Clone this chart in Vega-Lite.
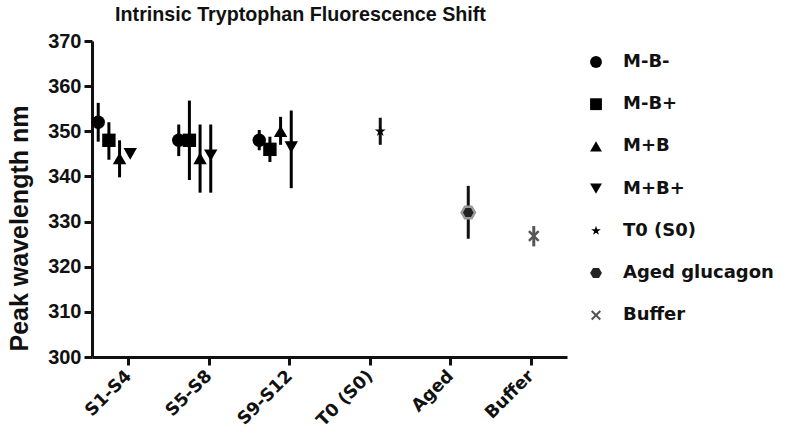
{
  "$schema": "https://vega.github.io/schema/vega-lite/v6.json",
  "width": 475,
  "height": 316,
  "autosize": {"type": "none"},
  "padding": {"left": 92, "top": 41, "right": 225, "bottom": 87},
  "background": "white",
  "title": {
    "text": "Intrinsic Tryptophan Fluorescence Shift",
    "fontSize": 19.7,
    "font": "Liberation Sans",
    "fontWeight": "bold",
    "color": "#111",
    "anchor": "middle",
    "dx": -29,
    "offset": 6
  },
  "config": {
    "view": {"stroke": null},
    "font": "Liberation Sans",
    "legend": {
      "labelFont": "DejaVu Sans",
      "labelFontSize": 18,
      "labelFontWeight": "bold",
      "labelColor": "#111",
      "labelOffset": 18,
      "symbolSize": 140,
      "rowPadding": 24.2,
      "padding": 0
    }
  },
  "data": {
    "values": [
      {"group": "S1-S4", "series": "M-B-", "mean": 352, "lo": 347.7, "hi": 356.3},
      {"group": "S1-S4", "series": "M-B+", "mean": 348, "lo": 343.7, "hi": 352},
      {"group": "S1-S4", "series": "M+B", "mean": 344, "lo": 339.8, "hi": 348},
      {"group": "S1-S4", "series": "M+B+", "mean": 345, "lo": 344.3, "hi": 345.7},
      {"group": "S5-S8", "series": "M-B-", "mean": 348, "lo": 344.5, "hi": 351.5},
      {"group": "S5-S8", "series": "M-B+", "mean": 348, "lo": 339.2, "hi": 356.8},
      {"group": "S5-S8", "series": "M+B", "mean": 344, "lo": 336.4, "hi": 351.5},
      {"group": "S5-S8", "series": "M+B+", "mean": 344.7, "lo": 336.4, "hi": 351.5},
      {"group": "S9-S12", "series": "M-B-", "mean": 348, "lo": 345.8, "hi": 350.3},
      {"group": "S9-S12", "series": "M-B+", "mean": 346, "lo": 343.2, "hi": 348.8},
      {"group": "S9-S12", "series": "M+B", "mean": 350, "lo": 347, "hi": 353.2},
      {"group": "S9-S12", "series": "M+B+", "mean": 346.5, "lo": 337.4, "hi": 354.6},
      {"group": "T0 (S0)", "series": "T0 (S0)", "mean": 350, "lo": 347, "hi": 353},
      {"group": "Aged", "series": "Aged glucagon", "mean": 332, "lo": 326.2, "hi": 337.9},
      {"group": "Buffer", "series": "Buffer", "mean": 326.8, "lo": 324.5, "hi": 329}
    ]
  },
  "encoding": {
    "x": {
      "field": "group",
      "type": "nominal",
      "sort": ["S1-S4", "S5-S8", "S9-S12", "T0 (S0)", "Aged", "Buffer"],
      "scale": {"type": "point", "padding": 0.45},
      "axis": {
        "title": null,
        "labelAngle": -45,
        "labelFont": "DejaVu Sans",
        "labelFontSize": 17.5,
        "labelFontWeight": "bold",
        "labelColor": "#111",
        "labelPadding": 8,
        "labelBaseline": "middle",
        "labelDx": -5,
        "domainColor": "#111",
        "domainWidth": 3,
        "tickColor": "#111",
        "tickWidth": 3,
        "tickSize": 8,
        "grid": false
      }
    }
  },
  "layer": [
    {
      "transform": [{"filter": {"field": "group", "oneOf": ["S1-S4", "S5-S8", "S9-S12"]}}],
      "encoding": {
        "xOffset": {
          "field": "series",
          "type": "nominal",
          "scale": {"type": "point", "domain": ["M-B-", "M-B+", "M+B", "M+B+"], "range": [-30, 2], "padding": 0}
        }
      },
      "layer": [
        {
          "mark": {"type": "rule", "strokeWidth": 3, "color": "#000"},
          "encoding": {
            "y": {
              "field": "lo",
              "type": "quantitative",
              "title": "Peak wavelength nm",
              "scale": {"domain": [300, 370], "nice": false, "zero": false},
              "axis": {
                "grid": false,
                "values": [300, 310, 320, 330, 340, 350, 360, 370],
                "labelFont": "Liberation Sans",
                "labelFontSize": 20,
                "labelFontWeight": "bold",
                "labelColor": "#111",
                "labelPadding": 3,
                "domainColor": "#111",
                "domainWidth": 3,
                "tickColor": "#111",
                "tickWidth": 3,
                "tickSize": 8,
                "titleFont": "Liberation Sans",
                "titleFontSize": 25,
                "titleFontWeight": "bold",
                "titleColor": "#111",
                "titleX": -60,
                "titleY": 187
              }
            },
            "y2": {"field": "hi"}
          }
        },
        {
          "mark": {"type": "point", "filled": true, "opacity": 1, "size": 180, "strokeWidth": 2.5},
          "encoding": {
            "y": {"field": "mean", "type": "quantitative", "title": "Peak wavelength nm"},
            "color": {
              "field": "series",
              "type": "nominal",
              "scale": {"domain": ["M-B-", "M-B+", "M+B", "M+B+", "T0 (S0)", "Aged glucagon", "Buffer"], "range": ["#000", "#000", "#000", "#000", "#000", "#222", "#555"]},
              "legend": {"title": null, "orient": "none", "legendX": 495, "legendY": 12}
            },
            "shape": {
              "field": "series",
              "type": "nominal",
              "scale": {"domain": ["M-B-", "M-B+", "M+B", "M+B+", "T0 (S0)", "Aged glucagon", "Buffer"], "range": ["circle", "square", "triangle-up", "triangle-down", "M0,-0.85L0.191,-0.263L0.808,-0.263L0.309,0.1L0.5,0.688L0,0.325L-0.5,0.688L-0.309,0.1L-0.808,-0.263L-0.191,-0.263Z", "M-1,0L-0.5,-0.866L0.5,-0.866L1,0L0.5,0.866L-0.5,0.866Z", "M-0.85,-0.6L-0.6,-0.85L0,-0.25L0.6,-0.85L0.85,-0.6L0.25,0L0.85,0.6L0.6,0.85L0,0.25L-0.6,0.85L-0.85,0.6L-0.25,0Z"]},
              "legend": {
                "title": null,
                "orient": "none",
                "legendX": 495,
                "legendY": 12,
                "encode": {
                  "symbols": {
                    "update": {
                      "stroke": {"signal": "datum.label === 'Aged glucagon' ? '#9a9a9a' : 'transparent'"},
                      "strokeWidth": {"value": 2.5}
                    }
                  }
                }
              }
            },
            "stroke": {"condition": {"test": "datum.series === 'Aged glucagon'", "value": "#9a9a9a"}, "value": "transparent"}
          }
        }
      ]
    },
    {
      "transform": [{"filter": {"field": "group", "oneOf": ["T0 (S0)", "Aged", "Buffer"]}}],
      "encoding": {
        "xOffset": {
          "field": "series",
          "type": "nominal",
          "scale": {"type": "point", "domain": ["Buffer", "T0 (S0)", "Aged glucagon"], "range": [3, 18], "padding": 0}
        }
      },
      "layer": [
        {
          "mark": {"type": "rule", "strokeWidth": 3},
          "encoding": {
            "y": {"field": "lo", "type": "quantitative", "title": "Peak wavelength nm"},
            "y2": {"field": "hi"},
            "stroke": {"condition": {"test": "datum.series === 'Buffer'", "value": "#555"}, "value": "#111"}
          }
        },
        {
          "mark": {"type": "point", "filled": true, "opacity": 1, "size": 180, "strokeWidth": 2.5},
          "encoding": {
            "y": {"field": "mean", "type": "quantitative", "title": "Peak wavelength nm"},
            "color": {"field": "series", "type": "nominal"},
            "shape": {"field": "series", "type": "nominal"},
            "stroke": {"condition": {"test": "datum.series === 'Aged glucagon'", "value": "#9a9a9a"}, "value": "transparent"}
          }
        }
      ]
    }
  ],
  "resolve": {"scale": {"xOffset": "independent"}}
}
